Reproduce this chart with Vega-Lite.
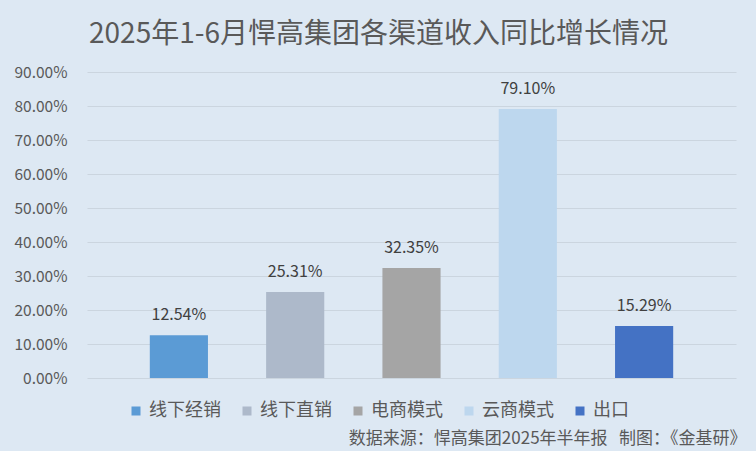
{
  "$schema": "https://vega.github.io/schema/vega-lite/v6.json",
  "width": 649,
  "height": 306,
  "autosize": "none",
  "padding": {"left": 87, "top": 72, "right": 20, "bottom": 73},
  "background": "#dde8f3",
  "config": {
    "view": {"stroke": null},
    "font": "Noto Sans CJK SC"
  },
  "title": {
    "text": "2025年1-6月悍高集团各渠道收入同比增长情况",
    "fontSize": 28,
    "fontWeight": "normal",
    "color": "#595959",
    "anchor": "middle",
    "frame": "group",
    "dx": -33,
    "offset": 16
  },
  "data": {
    "values": [
      {"channel": "线下经销", "growth": 0.1254},
      {"channel": "线下直销", "growth": 0.2531},
      {"channel": "电商模式", "growth": 0.3235},
      {"channel": "云商模式", "growth": 0.791},
      {"channel": "出口", "growth": 0.1529}
    ]
  },
  "encoding": {
    "x": {
      "field": "channel",
      "type": "nominal",
      "sort": null,
      "scale": {"paddingInner": 0.5, "paddingOuter": 0.54},
      "axis": {
        "labels": false,
        "ticks": false,
        "domain": false,
        "title": "数据来源：悍高集团2025年半年报\u00a0\u00a0\u00a0制图：《金基研》",
        "titleX": 659,
        "titleY": 60,
        "titleAlign": "right",
        "titleBaseline": "middle",
        "titleFontSize": 17,
        "titleFontWeight": "normal",
        "titleColor": "#595959"
      }
    },
    "y": {
      "field": "growth",
      "type": "quantitative",
      "scale": {"domain": [0, 0.9]},
      "axis": {
        "format": ".2%",
        "values": [0, 0.1, 0.2, 0.3, 0.4, 0.5, 0.6, 0.7, 0.8, 0.9],
        "title": null,
        "domain": false,
        "ticks": false,
        "labelFontSize": 15.5,
        "labelColor": "#595959",
        "labelPadding": 20,
        "gridColor": "#cbd5df"
      }
    }
  },
  "layer": [
    {
      "mark": {"type": "bar"},
      "encoding": {
        "color": {
          "field": "channel",
          "type": "nominal",
          "sort": null,
          "scale": {
            "domain": ["线下经销", "线下直销", "电商模式", "云商模式", "出口"],
            "range": ["#5b9bd5", "#adb9ca", "#a5a5a5", "#bdd7ee", "#4472c4"]
          },
          "legend": {
            "orient": "none",
            "legendX": 40,
            "legendY": 330,
            "direction": "horizontal",
            "title": null,
            "symbolType": "square",
            "symbolSize": 81,
            "symbolStrokeWidth": 0,
            "labelFontSize": 18,
            "labelColor": "#595959",
            "labelOffset": 4,
            "columnPadding": 17
          }
        }
      }
    },
    {
      "mark": {"type": "text", "baseline": "bottom", "dy": -12, "fontSize": 16, "color": "#404040"},
      "encoding": {"text": {"field": "growth", "type": "quantitative", "format": ".2%"}}
    }
  ]
}
